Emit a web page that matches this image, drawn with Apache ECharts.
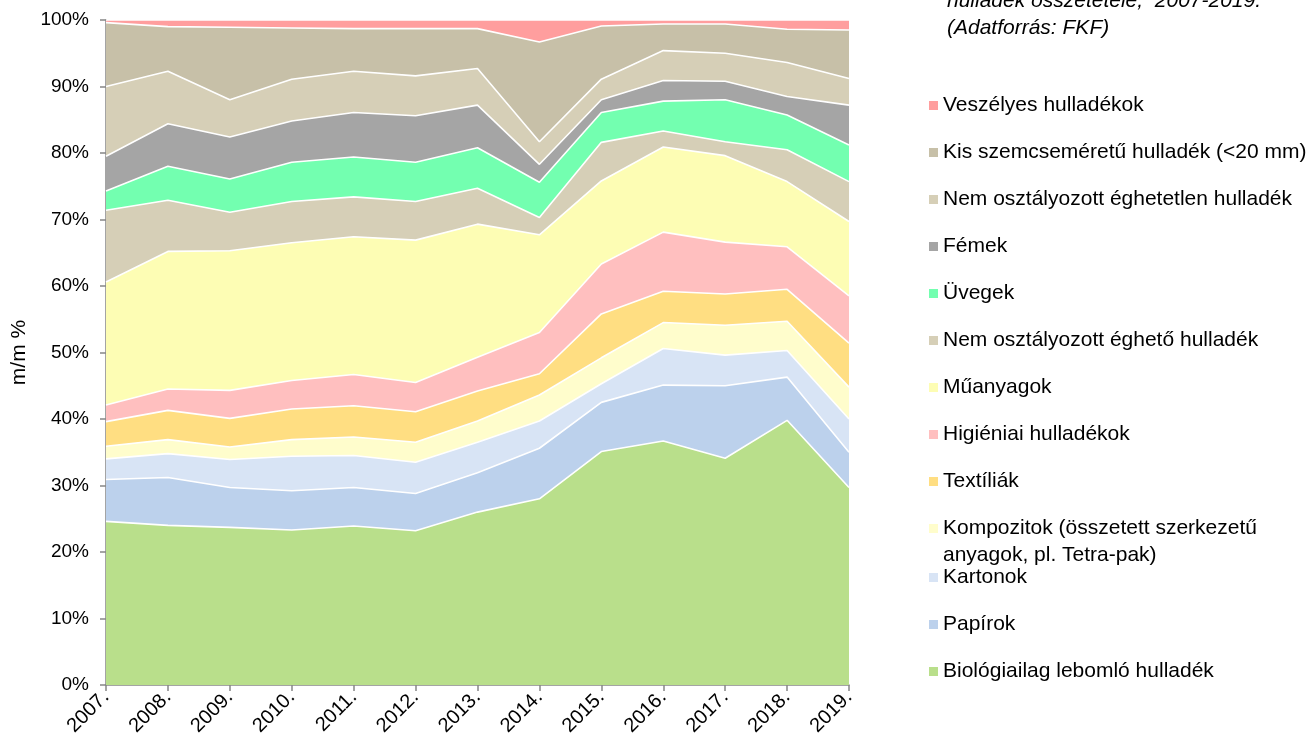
<!DOCTYPE html>
<html>
<head>
<meta charset="utf-8">
<title>hulladék összetétele, 2007-2019.</title>
<script src="https://cdn.jsdelivr.net/npm/echarts@6/dist/echarts.min.js"></script>
<style>
  html, body {margin: 0; padding: 0; background: #fff;}
  #chart_waste {width: 1316px; height: 749px;}
</style>
</head>
<body>
<div id="chart_waste"></div>
<script>
// évek
const years = ['2007.', '2008.', '2009.', '2010.', '2011.', '2012.', '2013.', '2014.', '2015.', '2016.', '2017.', '2018.', '2019.'];
const yTicks = ['0%', '10%', '20%', '30%', '40%', '50%', '60%', '70%', '80%', '90%', '100%'];

// m/m %, alulról felfelé halmozva
const bio = [24.6, 24.0, 23.7, 23.3, 23.9, 23.2, 26.0, 28.0, 35.1, 36.7, 34.1, 39.8, 29.7];
const papir = [6.3, 7.2, 6.0, 5.9, 5.8, 5.6, 5.9, 7.6, 7.4, 8.4, 10.9, 6.5, 5.3];
const karton = [3.1, 3.6, 4.2, 5.2, 4.8, 4.7, 4.6, 4.1, 2.8, 5.5, 4.6, 4.0, 5.0];
const kompozit = [1.9, 2.1, 1.9, 2.5, 2.8, 3.0, 3.2, 3.9, 3.9, 3.9, 4.5, 4.4, 4.8];
const textil = [3.7, 4.4, 4.3, 4.6, 4.7, 4.6, 4.5, 3.2, 6.6, 4.7, 4.7, 4.8, 6.6];
const higienia = [2.5, 3.2, 4.2, 4.3, 4.7, 4.4, 5.1, 6.2, 7.5, 8.9, 7.8, 6.4, 7.1];
const muanyag = [18.5, 20.7, 21.0, 20.7, 20.7, 21.4, 20.0, 14.7, 12.5, 12.8, 13.0, 9.8, 11.2];
const egheto = [10.8, 7.7, 5.8, 6.2, 6.0, 5.8, 5.4, 2.6, 5.8, 2.4, 2.1, 4.8, 6.0];
const uveg = [2.9, 5.1, 5.0, 5.9, 6.0, 5.9, 6.1, 5.3, 4.5, 4.5, 6.3, 5.2, 5.5];
const fem = [5.2, 6.4, 6.3, 6.2, 6.7, 7.0, 6.4, 2.7, 1.9, 3.1, 2.8, 2.8, 6.0];
const eghetetlen = [10.5, 7.9, 5.6, 6.3, 6.2, 6.0, 5.5, 3.4, 3.1, 4.5, 4.2, 5.1, 4.0];
const kis = [9.6, 6.7, 10.9, 7.7, 6.4, 7.1, 6.0, 15.0, 8.0, 4.0, 4.4, 5.0, 7.3];
const veszelyes = [0.4, 1.0, 1.1, 1.2, 1.3, 1.3, 1.3, 3.3, 0.9, 0.6, 0.6, 1.4, 1.5];

const kompozitName = 'Kompozitok (összetett szerkezetű anyagok, pl. Tetra-pak)';

const seriesDefs = [
	{name: 'Biológiailag lebomló hulladék', data: bio, color: '#B9DF8B'},
	{name: 'Papírok', data: papir, color: '#BCD1EC'},
	{name: 'Kartonok', data: karton, color: '#D8E4F5'},
	{name: kompozitName, data: kompozit, color: '#FFFDCC'},
	{name: 'Textíliák', data: textil, color: '#FFDE82'},
	{name: 'Higiéniai hulladékok', data: higienia, color: '#FFBFBF'},
	{name: 'Műanyagok', data: muanyag, color: '#FDFDB4'},
	{name: 'Nem osztályozott éghető hulladék', data: egheto, color: '#D6CFB7'},
	{name: 'Üvegek', data: uveg, color: '#73FFB0'},
	{name: 'Fémek', data: fem, color: '#A5A5A5'},
	{name: 'Nem osztályozott éghetetlen hulladék', data: eghetetlen, color: '#D6CFB7'},
	{name: 'Kis szemcseméretű hulladék (<20 mm)', data: kis, color: '#C7C0A8'},
	{name: 'Veszélyes hulladékok', data: veszelyes, color: '#FF9E9E'}
];

const font = '"Liberation Sans", Arial, sans-serif';
const axisColor = '#868686';

const chartDom = document.getElementById('chart_waste');
const myChart = echarts.init(chartDom, null, {renderer: 'canvas'});

const seriesList = seriesDefs.map((item, index) => {
	return {
		name: item.name,
		type: 'line',
		stack: 'total',
		z: 30 - index,
		symbol: 'none',
		showSymbol: false,
		silent: true,
		itemStyle: {color: item.color},
		lineStyle: {color: '#fff', width: 1.6},
		areaStyle: {color: item.color, opacity: 1},
		data: item.data
	};
});

// jelmagyarázat: felülről lefelé fordított sorrend
const legendNames = seriesDefs.map((item) => item.name).reverse();

const legendBase = {
	orient: 'vertical',
	left: 929,
	itemWidth: 9,
	itemHeight: 9,
	itemGap: 26,
	icon: 'rect',
	selectedMode: false,
	padding: 0,
	textStyle: {fontFamily: font, fontSize: 21, color: '#000', lineHeight: 20},
	// a kompozitok második sora külön szövegként kerül alá
	formatter: (name) => name === kompozitName ? 'Kompozitok (összetett szerkezetű' : name
};

const option = {
	animation: false,
	backgroundColor: '#fff',
	title: {
		text: 'hulladék összetétele,  2007-2019.\n(Adatforrás: FKF)',
		left: 947,
		top: -12,
		padding: 0,
		textStyle: {fontFamily: font, fontSize: 21, fontStyle: 'italic', fontWeight: 'normal', color: '#000', lineHeight: 27}
	},
	legend: [
		Object.assign({}, legendBase, {top: 95, data: legendNames.slice(0, 10)}),
		Object.assign({}, legendBase, {top: 567, data: legendNames.slice(10)})
	],
	graphic: [
		{
			type: 'text',
			left: 943,
			top: 545,
			silent: true,
			style: {text: 'anyagok, pl. Tetra-pak)', font: '21px ' + font, fill: '#000'}
		}
	],
	grid: {left: 106, right: 467, top: 20, bottom: 64, containLabel: false},
	xAxis: {
		type: 'category',
		boundaryGap: false,
		data: years,
		axisLine: {lineStyle: {color: axisColor, width: 1.5}},
		axisTick: {show: true, length: 6, lineStyle: {color: axisColor, width: 1.5}},
		axisLabel: {rotate: 45, margin: 9, fontFamily: font, fontSize: 20, color: '#000', interval: 0},
		splitLine: {show: false}
	},
	yAxis: {
		type: 'value',
		min: 0,
		max: 100,
		interval: 10,
		name: 'm/m %',
		nameLocation: 'middle',
		nameRotate: 90,
		nameGap: 74,
		nameTextStyle: {fontFamily: font, fontSize: 21, color: '#000'},
		axisLine: {show: true, lineStyle: {color: axisColor, width: 1.5}},
		axisTick: {show: true, length: 6, lineStyle: {color: axisColor, width: 1.5}},
		axisLabel: {
			margin: 17,
			fontFamily: font,
			fontSize: 19,
			color: '#000',
			formatter: (value) => yTicks[Math.round(value / 10)]
		},
		splitLine: {show: false}
	},
	series: seriesList
};

option && myChart.setOption(option);
</script>
</body>
</html>
